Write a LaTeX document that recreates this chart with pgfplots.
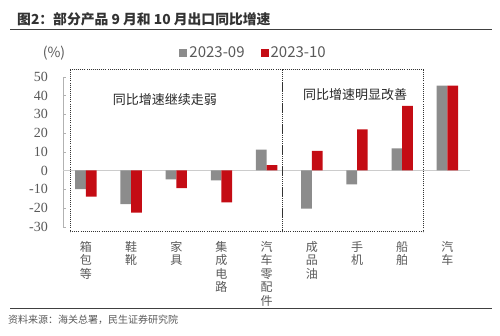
\documentclass[border=0pt]{standalone}
\usepackage{fontspec}
\usepackage{pgfplots}
\pgfplotsset{compat=1.18}
\setmainfont{Noto Sans CJK SC}
\newfontfamily\tnr{Liberation Serif}
\definecolor{bargray}{RGB}{140,140,140}
\definecolor{barred}{RGB}{196,12,20}
\definecolor{txtgray}{RGB}{89,89,89}
\begin{document}
\begin{tikzpicture}[x=1pt,y=1pt]
\useasboundingbox (0,0) rectangle (500,336);
\node[anchor=west, font=\fontsize{13.8}{15}\selectfont\bfseries, text=black!80, inner sep=0pt] at (17,317) {图2：部分产品 9 月和 10 月出口同比增速};
\draw[black!75, line width=0.8pt] (10,307) -- (492,307);
\draw[black!75, line width=0.6pt] (10,28) -- (492,28);
\node[anchor=west, font=\fontsize{10}{12}\selectfont, text=txtgray, inner sep=0pt] at (8,16) {资料来源：海关总署，民生证券研究院};
\node[font=\fontsize{14}{16}\selectfont, text=txtgray] at (54,283) {(\%)};
\begin{axis}[
  scale only axis, width=406.7pt, height=150pt,
  at={(63.3pt,109.3pt)}, anchor=south west,
  clip=false,
  xmin=-0.5, xmax=8.5, ymin=-30, ymax=50,
  ytick={-30,-20,...,50},
  xtick={0,...,8},
  xticklabels={{箱\\包\\等},{鞋\\靴},{家\\具},{集\\成\\电\\路},{汽\\车\\零\\配\\件},{成\\品\\油},{手\\机},{船\\舶},{汽\\车}},
  axis x line=bottom, axis y line=left,
  x axis line style={draw=none,-},
  y axis line style={draw=black!30,-},
  major x tick style={draw=none},
  major y tick style={draw=black!30},
  tick align=inside, major tick length=3pt,
  xticklabel style={align=center, font=\fontsize{12}{13.5}\selectfont, text=txtgray, yshift=-8pt},
  yticklabel style={font=\tnr\fontsize{14}{16}\selectfont, text=txtgray, xshift=-12pt},
  /pgf/number format/assume math mode=true,
  ybar=0pt, bar width=10.7pt,
  legend style={at={(0.468,1.158)}, anchor=center, draw=none, fill=none,
    legend columns=2, font=\fontsize{15}{17}\selectfont, text=txtgray,
    /tikz/every even column/.append style={column sep=14pt}},
  legend image code/.code={\fill[#1] (0pt,-4pt) rectangle (8pt,4pt);},
]
\draw[black!20, line width=0.6pt] (axis cs:-0.5,0) -- (axis cs:8.5,0);
\addplot[fill=bargray, draw=none] coordinates {(0,-10) (1,-18) (2,-4.7) (3,-5.3) (4,11.1) (5,-20.4) (6,-7.4) (7,11.8) (8,45.2)};
\addplot[fill=barred, draw=none] coordinates {(0,-14) (1,-22.5) (2,-9.4) (3,-17) (4,2.9) (5,10.4) (6,21.9) (7,34.4) (8,45.2)};
\legend{2023-09,2023-10}
\draw[black!80, line width=0.9pt, dash pattern=on 0.9pt off 1.2pt] (axis cs:-0.343,53.6) rectangle (axis cs:4.347,-32.8);
\draw[black!80, line width=0.9pt, dash pattern=on 0.9pt off 1.2pt] (axis cs:4.347,53.6) rectangle (axis cs:7.467,-32.8);
\node[font=\fontsize{13}{15}\selectfont, text=black!85] at (axis cs:1.75,37.6) {同比增速继续走弱};
\node[font=\fontsize{13}{15}\selectfont, text=black!85] at (axis cs:5.96,40.2) {同比增速明显改善};
\end{axis}
\end{tikzpicture}
\end{document}
